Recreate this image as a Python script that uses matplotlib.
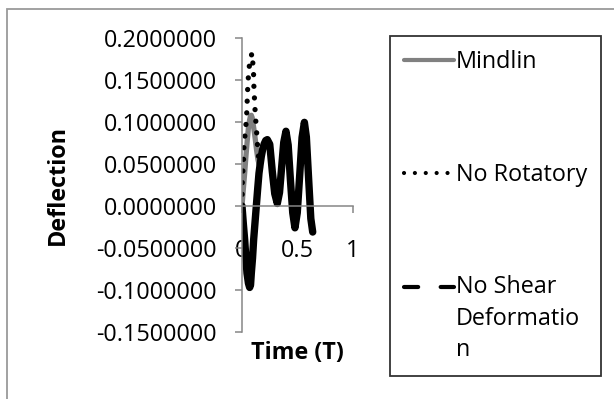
import matplotlib
matplotlib.use("Agg")
import matplotlib.pyplot as plt
from matplotlib.legend_handler import HandlerLine2D
from matplotlib.lines import Line2D
from matplotlib.patches import Rectangle
from matplotlib.ticker import FormatStrFormatter

# values
t_shear = [0.0, 0.012, 0.024, 0.035, 0.045, 0.058, 0.069, 0.077, 0.084, 0.095, 0.105,
           0.117, 0.129, 0.141, 0.153, 0.164, 0.174, 0.187, 0.20, 0.214, 0.228,
           0.25, 0.273, 0.295, 0.318, 0.338, 0.357, 0.376, 0.396, 0.416, 0.436,
           0.457, 0.477, 0.498, 0.52, 0.541, 0.562, 0.58, 0.60, 0.62, 0.637]
no_shear = [0.0, -0.021, -0.040, -0.062, -0.080, -0.092, -0.097, -0.094, -0.080, -0.062, -0.040,
            -0.020, 0.0, 0.020, 0.039, 0.050, 0.059, 0.068, 0.074, 0.078, 0.079,
            0.0735, 0.041, 0.0146, 0.003, 0.016, 0.046, 0.0758, 0.089, 0.0726, 0.0315,
            -0.008, -0.026, -0.008, 0.037, 0.0816, 0.0996, 0.082, 0.033, -0.015, -0.031]

t_mindlin = [0.0, 0.012, 0.024, 0.036, 0.048, 0.058, 0.068, 0.076, 0.084, 0.092, 0.10,
             0.11, 0.12, 0.132, 0.144, 0.155, 0.165]
mindlin = [0.0, 0.020, 0.039, 0.060, 0.079, 0.093, 0.102, 0.107, 0.108, 0.105, 0.098,
           0.089, 0.079, 0.066, 0.055, 0.049, 0.045]

t_rot = [0.0, 0.003, 0.009, 0.015, 0.018, 0.03, 0.039, 0.045, 0.048, 0.054, 0.06,
         0.069, 0.078, 0.09, 0.099, 0.105, 0.108, 0.114, 0.12, 0.129, 0.135,
         0.144, 0.153, 0.168, 0.18]
no_rot = [0.0, 0.029, 0.0437, 0.0587, 0.0726, 0.0885, 0.102, 0.116, 0.132, 0.146, 0.160,
          0.170, 0.176, 0.182, 0.168, 0.155, 0.138, 0.124, 0.108, 0.094, 0.0806,
          0.065, 0.053, 0.045, 0.039]

y_ticks = [-0.15, -0.1, -0.05, 0.0, 0.05, 0.1, 0.15, 0.2]
x_ticks = [0, 0.5, 1]
series_labels = ["Mindlin", "No Rotatory", "No Shear\nDeformatio\nn"]

plt.rcParams["font.family"] = ["Open Sans", "DejaVu Sans"]
fs = 16.8
axis_grey = "#868686"


class FirstLineHandler(HandlerLine2D):
    # put the legend line next to the first line of a wrapped label
    def __init__(self, shift, **kwargs):
        super().__init__(**kwargs)
        self.shift = shift

    def create_artists(self, legend, orig_handle, xdescent, ydescent, width, height,
                       fontsize, trans):
        return super().create_artists(legend, orig_handle, xdescent,
                                      ydescent - 2 * self.shift, width, height,
                                      fontsize, trans)


fig = plt.figure(figsize=(6.14, 3.99), dpi=100)
fig.patches.append(Rectangle((7 / 614, -0.05), 2.0, (399 - 9) / 399 + 0.05,
                             transform=fig.transFigure, fill=False,
                             edgecolor="#9a9a9a", linewidth=1.3))

ax = fig.add_axes([242 / 614, (399 - 332) / 399, 111 / 614, 294 / 399])
ax.plot(t_mindlin, mindlin, color="#808080", linewidth=3.8, solid_capstyle="round")
ax.plot(t_rot, no_rot, color="black", linewidth=3.8, linestyle=(0, (0.01, 2.2)),
        dash_capstyle="round")
ax.plot(t_shear, no_shear, color="black", linewidth=5.3, solid_capstyle="round",
        solid_joinstyle="round")

ax.set_xlim(0, 1)
ax.set_ylim(-0.15, 0.2)
ax.set_xticks(x_ticks)
ax.set_xticklabels(["0", "0.5", "1"])
ax.set_yticks(y_ticks)
ax.yaxis.set_major_formatter(FormatStrFormatter("%.7f"))

for side in ["top", "right"]:
    ax.spines[side].set_visible(False)
ax.spines["bottom"].set_position(("data", 0))
for side in ["left", "bottom"]:
    ax.spines[side].set_color(axis_grey)
    ax.spines[side].set_linewidth(1.1)
ax.tick_params(axis="both", colors=axis_grey, length=5, width=1.1, direction="out",
               labelsize=fs, labelcolor="black")
ax.tick_params(axis="y", pad=13)
ax.tick_params(axis="x", pad=19)
ax.patch.set_visible(False)

fig.text(58 / 614, 1 - 185 / 399, "Deflection", rotation=90, ha="center", va="center",
         fontsize=fs, fontweight="bold")
fig.text(297 / 614, 1 - 353 / 399, "Time (T)", ha="center", va="center",
         fontsize=fs, fontweight="bold")

handles = [
    Line2D([], [], color="#808080", linewidth=3.0, solid_capstyle="round"),
    Line2D([], [], color="black", linewidth=3.0, linestyle=(0, (0.01, 2.6)),
           dash_capstyle="round"),
    Line2D([], [], color="black", linewidth=3.0, linestyle=(0, (3.4, 5.4)),
           dash_capstyle="round"),
]
leg = fig.legend(handles, series_labels, loc="upper left",
                 bbox_to_anchor=(390 / 614, 1 - 36 / 399, 211 / 614, 0.0),
                 mode="expand", fontsize=fs, frameon=True, fancybox=False,
                 handlelength=2.15, handletextpad=0.08, labelspacing=3.8,
                 borderpad=0.6, borderaxespad=0.0,
                 handler_map={handles[2]: FirstLineHandler(shift=23.5)})
for txt in leg.get_texts():
    txt.set_linespacing(1.4)
leg.get_frame().set_edgecolor("black")
leg.get_frame().set_linewidth(1.3)

fig.savefig("out.png", dpi=100)
